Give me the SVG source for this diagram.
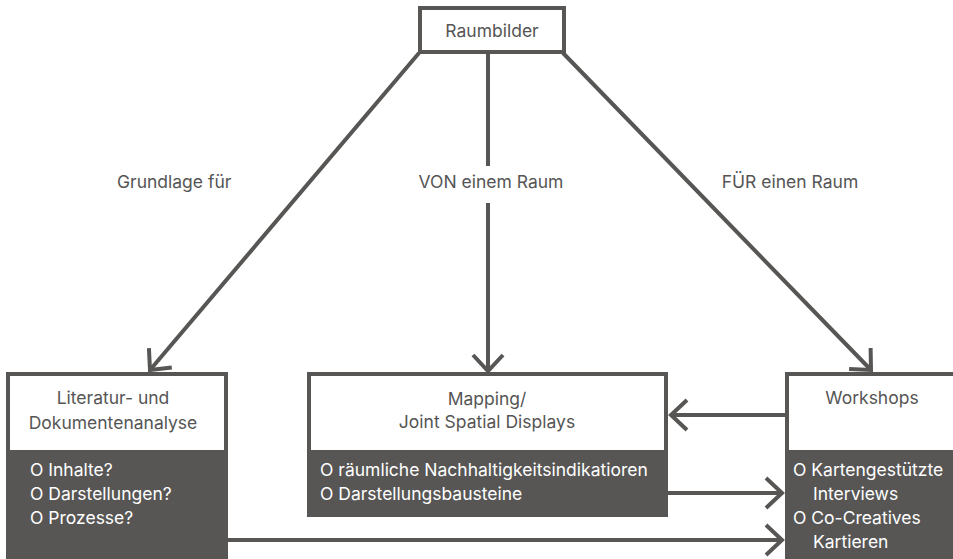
<svg xmlns="http://www.w3.org/2000/svg" width="953" height="559" viewBox="0 0 953 559">
<defs>
<style>
text{font-family:Inter,"Liberation Sans",sans-serif;font-size:17.5px;fill:#555}
.w{fill:#fff}
.box{fill:#fff;stroke:#575655;stroke-width:4}
.dark{fill:#575655}
.c{stroke:#575655;stroke-width:4;fill:none}
</style>
<marker id="ah" markerUnits="userSpaceOnUse" markerWidth="40" markerHeight="40" viewBox="-20 -20 40 40" refX="0" refY="0" orient="auto">
<path d="M-16,-15 L0,0 L-16,15" fill="none" stroke="#575655" stroke-width="4"/>
</marker>
</defs>
<g id="connectors">
<line class="c" x1="419" y1="53" x2="150" y2="370" marker-end="url(#ah)"/>
<line class="c" x1="488" y1="53" x2="488" y2="166"/>
<line class="c" x1="488" y1="203" x2="488" y2="371" marker-end="url(#ah)"/>
<line class="c" x1="563" y1="53" x2="871" y2="370" marker-end="url(#ah)"/>
<line class="c" x1="785" y1="415" x2="671" y2="415" marker-end="url(#ah)"/>
<line class="c" x1="668" y1="493" x2="782" y2="493" marker-end="url(#ah)"/>
<line class="c" x1="228" y1="540" x2="782" y2="540" marker-end="url(#ah)"/>
<text x="117" y="188">Grundlage für</text>
<text x="491" y="188" text-anchor="middle">VON einem Raum</text>
<text x="790" y="188" text-anchor="middle">FÜR einen Raum</text>
</g>
<g id="raumbilder">
<rect class="box" x="420" y="8" width="144" height="44"/>
<text x="492" y="37" text-anchor="middle">Raumbilder</text>
</g>
<g id="literatur">
<rect class="box" x="8" y="374" width="218" height="100"/>
<rect class="dark" x="6" y="450" width="222" height="109"/>
<text x="113" y="404" text-anchor="middle">Literatur- und</text>
<text x="113" y="429" text-anchor="middle">Dokumentenanalyse</text>
<text class="w" x="30" y="476">O Inhalte?</text>
<text class="w" x="30" y="500">O Darstellungen?</text>
<text class="w" x="30" y="524">O Prozesse?</text>
</g>
<g id="mapping">
<rect class="box" x="309" y="374" width="357" height="100"/>
<rect class="dark" x="307" y="450" width="361" height="67"/>
<text x="487" y="405" text-anchor="middle">Mapping/</text>
<text x="487" y="428" text-anchor="middle">Joint Spatial Displays</text>
<text class="w" x="320" y="476">O räumliche Nachhaltigkeitsindikatioren</text>
<text class="w" x="320" y="500">O Darstellungsbausteine</text>
</g>
<g id="workshops">
<rect class="box" x="787" y="374" width="180" height="100"/>
<rect class="dark" x="785" y="450" width="180" height="109"/>
<text x="872" y="404" text-anchor="middle">Workshops</text>
<text class="w" x="793" y="476">O Kartengestützte</text>
<text class="w" x="813" y="500">Interviews</text>
<text class="w" x="793" y="524">O Co-Creatives</text>
<text class="w" x="813" y="548">Kartieren</text>
</g>
</svg>
